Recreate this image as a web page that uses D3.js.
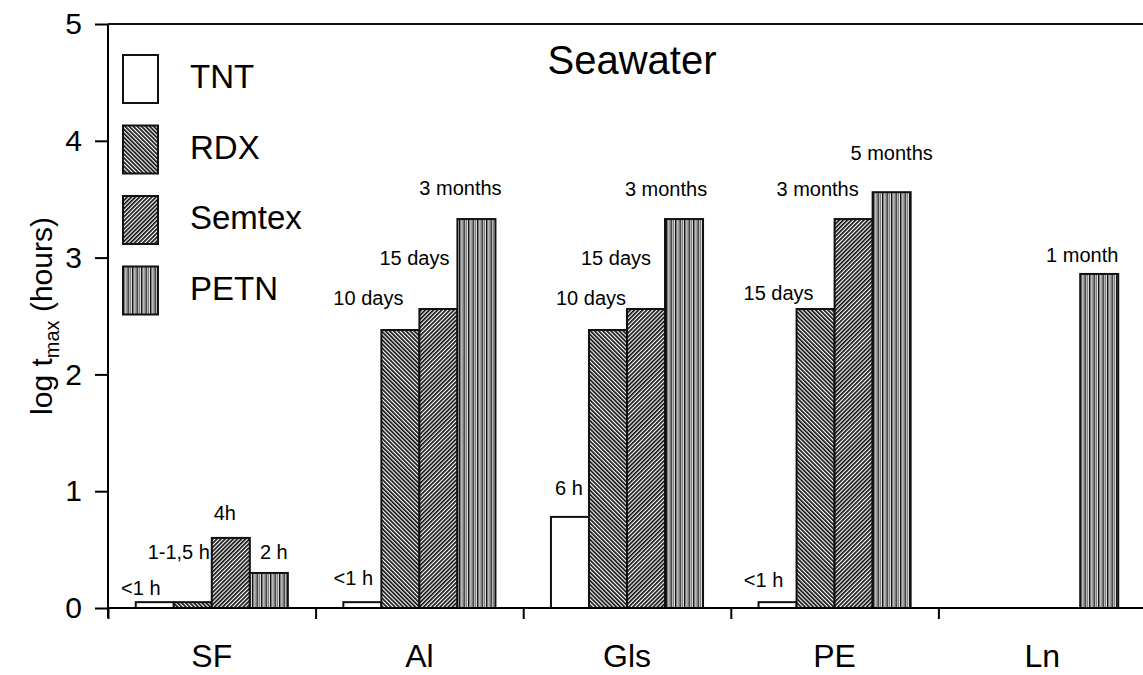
<!DOCTYPE html>
<html>
<head>
<meta charset="utf-8">
<script src="https://cdn.jsdelivr.net/npm/d3@7"></script>
<style>
  body { margin: 0; background: #fff; }
  text { font-family: "Liberation Sans", Arial, sans-serif; fill: #000; }
</style>
</head>
<body>
<div id="wrapper"></div>
<script>
// data (log10 of hours)
const categories = ["SF", "Al", "Gls", "PE", "Ln"];
const series = ["TNT", "RDX", "Semtex", "PETN"];
const tntValues    = [0.05, 0.05, 0.78, 0.05, null];
const rdxValues    = [0.05, 2.38, 2.38, 2.56, null];
const semtexValues = [0.60, 2.56, 2.56, 3.33, null];
const petnValues   = [0.30, 3.33, 3.33, 3.56, 2.86];
const tntLabels    = ["<1 h", "<1 h", "6 h", "<1 h", null];
const rdxLabels    = ["1-1,5 h", "10 days", "10 days", "15 days", null];
const semtexLabels = ["4h", "15 days", "15 days", "3 months", null];
const petnLabels   = ["2 h", "3 months", "3 months", "5 months", "1 month"];
const yTicks = [0, 1, 2, 3, 4, 5];

// label nudges relative to bar centre / bar top (layout only)
const labelNudge = {
    "TNT":    [[-14, -7], [-9, -17], [-1, -22], [-14, -15], null],
    "RDX":    [[-14, -43], [-32, -25], [-17, -25], [-37, -9], null],
    "Semtex": [[-6, -18], [-24, -44], [-30, -44], [-36, -23], null],
    "PETN":   [[5, -14], [-16, -24], [-18, -23], [0, -32], [-17, -12]],
};

const valuesBySeries = { TNT: tntValues, RDX: rdxValues, Semtex: semtexValues, PETN: petnValues };
const labelsBySeries = { TNT: tntLabels, RDX: rdxLabels, Semtex: semtexLabels, PETN: petnLabels };

// flat table for the bars
const rows = [];
series.forEach(s => {
    categories.forEach((c, i) => {
        if (valuesBySeries[s][i] != null) {
            rows.push({ series: s, category: c, value: valuesBySeries[s][i],
                        label: labelsBySeries[s][i], nudge: labelNudge[s][i] });
        }
    });
});

const width = 1143, height = 675;
const margin = { top: 24, left: 108, bottom: 67 };

const svg = d3.select("#wrapper").append("svg")
    .attr("width", width)
    .attr("height", height);

// hatch patterns
const defs = svg.append("defs");
function stripes(id, angle) {
    const p = defs.append("pattern")
        .attr("id", id)
        .attr("patternUnits", "userSpaceOnUse")
        .attr("width", 2.9).attr("height", 2.9)
        .attr("patternTransform", `rotate(${angle})`);
    p.append("rect").attr("width", 2.9).attr("height", 2.9).attr("fill", "#fff");
    p.append("rect").attr("width", 1.7).attr("height", 2.9).attr("fill", "#111");
}
stripes("hatchRDX", -45);
stripes("hatchSemtex", 45);
const pv = defs.append("pattern")
    .attr("id", "hatchPETN")
    .attr("patternUnits", "userSpaceOnUse")
    .attr("width", 4.5).attr("height", 6);
pv.append("rect").attr("width", 4.5).attr("height", 6).attr("fill", "#e0e0e0");
pv.append("rect").attr("x", 0).attr("width", 1.4).attr("height", 6).attr("fill", "#111");
pv.append("rect").attr("x", 2.6).attr("width", 0.9).attr("height", 6).attr("fill", "#666");

const fills = { TNT: "#fff", RDX: "url(#hatchRDX)", Semtex: "url(#hatchSemtex)", PETN: "url(#hatchPETN)" };

// scales
const x0 = d3.scaleBand()
    .domain(categories)
    .range([margin.left, 1146])
    .padding(0);
const x1 = d3.scaleBand()
    .domain(series)
    .range([0, x0.bandwidth()])
    .paddingInner(0)
    .paddingOuter(0.73);
const y = d3.scaleLinear()
    .domain([0, 5])
    .range([height - margin.bottom, margin.top]);

// bars
svg.append("g").selectAll("rect")
    .data(rows)
    .join("rect")
    .attr("x", d => x0(d.category) + x1(d.series))
    .attr("width", x1.bandwidth())
    .attr("y", d => y(d.value))
    .attr("height", d => y(0) - y(d.value))
    .attr("fill", d => fills[d.series])
    .attr("stroke", "#111")
    .attr("stroke-width", 2);

// bar labels
svg.append("g").selectAll("text")
    .data(rows.filter(d => d.label))
    .join("text")
    .attr("x", d => x0(d.category) + x1(d.series) + x1.bandwidth() / 2 + d.nudge[0])
    .attr("y", d => y(d.value) + d.nudge[1])
    .attr("text-anchor", "middle")
    .style("font-size", "20px")
    .text(d => d.label);

// y axis
const yAxis = svg.append("g")
    .attr("transform", `translate(${margin.left},0)`)
    .call(d3.axisLeft(y).tickValues(yTicks).tickSize(13).tickPadding(13).tickFormat(d3.format("d")));
yAxis.select(".domain").attr("stroke-width", 2).attr("d", `M0,${y(5)}V${y(0) + 10}`);
yAxis.selectAll(".tick line").attr("stroke-width", 2);
yAxis.selectAll(".tick text").style("font-size", "30px").style("font-family", "Liberation Sans, Arial, sans-serif");

// top frame line
svg.append("line")
    .attr("x1", margin.left).attr("x2", width)
    .attr("y1", y(5)).attr("y2", y(5))
    .attr("stroke", "#111").attr("stroke-width", 2);

// x axis: category boundary ticks + centred labels
const boundary = d3.scaleLinear().domain([0, categories.length]).range(x0.range());
const xTickAxis = svg.append("g")
    .attr("transform", `translate(0,${y(0)})`)
    .call(d3.axisBottom(boundary).ticks(categories.length).tickSize(11).tickFormat(""));
xTickAxis.select(".domain").attr("stroke-width", 2).attr("d", `M${margin.left},0H${width}`);
xTickAxis.selectAll(".tick line").attr("stroke-width", 2);

const xLabelAxis = svg.append("g")
    .attr("transform", `translate(0,${y(0)})`)
    .call(d3.axisBottom(x0).tickSize(0).tickPadding(36));
xLabelAxis.select(".domain").remove();
xLabelAxis.selectAll(".tick text").style("font-size", "32px").style("font-family", "Liberation Sans, Arial, sans-serif");

// y axis title
const yTitle = svg.append("text")
    .attr("transform", `translate(52,${(y(0) + y(5)) / 2}) rotate(-90)`)
    .attr("text-anchor", "middle")
    .style("font-size", "30px");
yTitle.append("tspan").text("log t");
yTitle.append("tspan").attr("dy", 7).style("font-size", "20px").text("max");
yTitle.append("tspan").attr("dy", -7).text(" (hours)");

// title
svg.append("text")
    .attr("x", 632).attr("y", 74)
    .attr("text-anchor", "middle")
    .style("font-size", "40px")
    .text("Seawater");

// legend
const legend = svg.append("g").attr("transform", "translate(123,55)");
const legendItem = legend.selectAll("g")
    .data(series)
    .join("g")
    .attr("transform", (d, i) => `translate(0,${i * 70.5})`);
legendItem.append("rect")
    .attr("width", 35).attr("height", 48)
    .attr("fill", d => fills[d])
    .attr("stroke", "#111").attr("stroke-width", 2);
legendItem.append("text")
    .attr("x", 67).attr("y", 33)
    .style("font-size", "33px")
    .text(d => d);
</script>
</body>
</html>
